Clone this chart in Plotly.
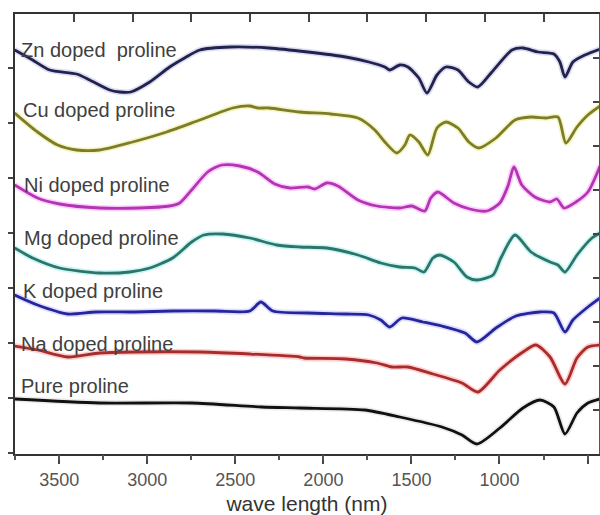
import plotly.graph_objects as go

# wavenumber (x) and relative transmittance in arbitrary units (y)
zn_x = [3753, 3651, 3554, 3401, 3327, 3213, 3157, 3094, 2986, 2873, 2788, 2702, 2526, 2310, 2088, 1873, 1742, 1651, 1623, 1566, 1520, 1458, 1412, 1355, 1304, 1236, 1174, 1123, 1043, 929, 867, 781, 691, 657, 628, 583, 515, 429]
zn_y = [404, 394, 384, 380, 374, 364, 362, 362, 372, 387, 396, 404, 407, 406, 402, 397, 392, 387, 384, 389, 387, 376, 361, 379, 387, 384, 372, 367, 382, 404, 406, 402, 400, 392, 377, 392, 399, 405]

cu_x = [3753, 3623, 3509, 3401, 3270, 3083, 2890, 2702, 2515, 2418, 2373, 2310, 2134, 1958, 1804, 1708, 1651, 1583, 1537, 1509, 1458, 1407, 1355, 1304, 1236, 1174, 1117, 1020, 912, 821, 736, 668, 623, 560, 498, 429]
cu_y = [341, 322, 309, 304, 304, 312, 322, 334, 346, 348, 346, 346, 342, 340, 336, 324, 312, 301, 309, 319, 312, 299, 326, 332, 326, 312, 306, 316, 334, 337, 336, 337, 311, 327, 339, 348]

ni_x = [3753, 3623, 3498, 3270, 3043, 2873, 2816, 2748, 2657, 2577, 2475, 2373, 2276, 2191, 2088, 2049, 1981, 1918, 1804, 1696, 1566, 1498, 1424, 1390, 1350, 1259, 1168, 1071, 998, 952, 918, 873, 799, 713, 674, 634, 566, 498, 429]
ni_y = [269, 256, 250, 246, 246, 248, 251, 264, 282, 289, 288, 282, 270, 266, 267, 265, 271, 268, 254, 248, 246, 248, 243, 256, 262, 251, 245, 243, 251, 268, 287, 269, 257, 252, 255, 246, 252, 262, 288]

mg_x = [3753, 3651, 3498, 3270, 3100, 2986, 2856, 2748, 2679, 2571, 2418, 2265, 2134, 1981, 1804, 1674, 1566, 1480, 1429, 1378, 1338, 1259, 1185, 1128, 1037, 992, 912, 821, 713, 668, 628, 560, 475, 429]
mg_y = [206, 196, 186, 181, 182, 186, 196, 212, 219, 220, 216, 209, 207, 206, 199, 191, 187, 186, 182, 196, 199, 192, 177, 174, 179, 196, 219, 202, 192, 189, 182, 199, 216, 221]

k_x = [3753, 3623, 3452, 3293, 3071, 2856, 2617, 2418, 2355, 2287, 2088, 1873, 1742, 1674, 1623, 1554, 1435, 1327, 1196, 1128, 1020, 907, 770, 691, 628, 583, 498, 429]
k_y = [159, 149, 140, 142, 142, 143, 143, 143, 152, 143, 141, 140, 139, 134, 127, 136, 132, 128, 121, 112, 126, 138, 142, 141, 122, 134, 147, 156]

na_x = [3753, 3623, 3452, 3270, 3071, 2702, 2418, 2134, 2111, 1873, 1696, 1611, 1520, 1378, 1213, 1123, 998, 867, 793, 713, 628, 560, 498, 429]
na_y = [108, 104, 97, 101, 102, 102, 100, 97, 96, 95, 91, 87, 87, 80, 71, 62, 84, 102, 109, 97, 70, 96, 107, 109]

pure_x = [3753, 3270, 2748, 2350, 2134, 1765, 1566, 1327, 1213, 1128, 998, 867, 770, 691, 628, 560, 498, 429]
pure_y = [55, 51, 51, 47, 46, 44, 37, 27, 19, 10, 26, 46, 54, 47, 20, 41, 51, 55]

names = ["Zn doped  proline", "Cu doped proline", "Ni doped proline", "Mg doped proline",
         "K doped proline", "Na doped proline", "Pure proline"]
label_x = [3728, 3716, 3711, 3711, 3716, 3728, 3728]
label_y = [404, 344, 269, 216, 163, 110, 68]

series = [(zn_x, zn_y), (cu_x, cu_y), (ni_x, ni_y), (mg_x, mg_y),
          (k_x, k_y), (na_x, na_y), (pure_x, pure_y)]
colors = ["#22224e", "#7c7c2c", "#b236b2", "#2e7468", "#26269c", "#a82c2c", "#111111"]
halos = ["rgba(120,120,200,0.25)", "rgba(230,230,80,0.35)", "rgba(255,120,255,0.35)",
         "rgba(100,230,230,0.35)", "rgba(120,120,255,0.25)", "rgba(255,120,120,0.35)",
         "rgba(120,120,120,0.15)"]

fig = go.Figure()
for (xs, ys), c, h, n in zip(series, colors, halos, names):
    fig.add_trace(go.Scatter(x=xs, y=ys, mode="lines", line=dict(color=h, width=6, shape="spline", smoothing=0.7),
                             hoverinfo="skip", showlegend=False))
    fig.add_trace(go.Scatter(x=xs, y=ys, mode="lines", name=n,
                             line=dict(color=c, width=2.8, shape="spline", smoothing=0.7),
                             showlegend=False))

# invisible traces to anchor the secondary axes
fig.add_trace(go.Scatter(x=[2000], y=[200], xaxis="x2", yaxis="y2", mode="markers",
                         marker=dict(opacity=0), hoverinfo="skip", showlegend=False))
fig.add_trace(go.Scatter(x=[2000], y=[200], xaxis="x3", yaxis="y", mode="markers",
                         marker=dict(opacity=0), hoverinfo="skip", showlegend=False))

for n, lx, ly in zip(names, label_x, label_y):
    fig.add_annotation(x=lx, y=ly, text=n, showarrow=False, xanchor="left", yanchor="middle",
                       font=dict(family="Liberation Sans, Arial", size=20, color="#404040"))

xr = [3751, 435]
fig.update_layout(
    width=600, height=515,
    margin=dict(l=15, r=1, t=14, b=61),
    paper_bgcolor="white", plot_bgcolor="white",
    xaxis=dict(range=xr, showgrid=False, zeroline=False, showline=True, linecolor="#333333", linewidth=2,
               ticks="outside", ticklen=8, tickwidth=2, tickcolor="#444444", dtick=500, tick0=0,
               tickfont=dict(family="Liberation Sans, Arial", size=18, color="#555555"),
               title=dict(text="wave length (nm)", standoff=8,
                          font=dict(family="Liberation Sans, Arial", size=21, color="#333333"))),
    xaxis3=dict(range=xr, overlaying="x", side="bottom", anchor="y", showgrid=False, zeroline=False,
                showline=False, ticks="outside", ticklen=5, tickwidth=1.5, tickcolor="#555555",
                tick0=0, dtick=250, showticklabels=False),
    xaxis2=dict(range=xr, overlaying="x", side="top", anchor="y", showgrid=False, zeroline=False,
                showline=True, linecolor="#333333", linewidth=2, ticks="inside", ticklen=8, tickwidth=2,
                tickcolor="#444444", tick0=750, dtick=1000 / 3, showticklabels=False),
    yaxis=dict(range=[0, 440], showgrid=False, zeroline=False, showline=True, linecolor="#333333",
               linewidth=2, ticks="outside", ticklen=5, tickwidth=1.5, tickcolor="#444444",
               tick0=1, dtick=55, showticklabels=False),
    yaxis2=dict(range=[0, 440], overlaying="y", side="right", anchor="x", showgrid=False, zeroline=False,
                showline=True, linecolor="#555555", linewidth=1.5, ticks="inside", ticklen=6,
                tickwidth=1.5, tickcolor="#444444", tick0=0, dtick=44, showticklabels=False),
)

fig.write_html("out.html")
